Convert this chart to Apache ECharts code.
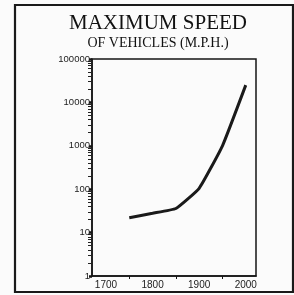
<!DOCTYPE html>
<html>
<head>
<meta charset="utf-8">
<script src="https://cdn.jsdelivr.net/npm/echarts@6/dist/echarts.min.js"></script>
<style>
html,body{margin:0;padding:0;background:#fbfbfb;}
#c{width:294px;height:295px;}
</style>
</head>
<body>
<div id="c"></div>
<script>
// Data
var years = [1750, 1800, 1850, 1900, 1950, 2000];
var speeds = [22, 28, 36, 105, 1000, 25000];
var xLabelValues = [1700, 1800, 1900, 2000];
var xTickValues = [1750, 1850, 1950];
var yTickLabels = ['1', '10', '100', '1000', '10000', '100000'];
var titleText = 'MAXIMUM SPEED';
var subtitleText = 'OF VEHICLES (M.P.H.)';

var chart = echarts.init(document.getElementById('c'), null, {renderer: 'canvas'});
var option = {
  backgroundColor: '#fbfbfb',
  animation: false,
  grid: {
    left: 92, top: 59, right: 38, bottom: 19,
    show: true, borderColor: '#151515', borderWidth: 1.5, backgroundColor: 'transparent'
  },
  graphic: [
    {type: 'rect', shape: {x: 15, y: 5, width: 278, height: 287},
     style: {fill: 'none', stroke: '#1a1a1a', lineWidth: 2.2}, silent: true},
    {type: 'text', x: 158, y: 23.3,
     style: {text: titleText, font: '21px "Liberation Serif"', fill: '#111', textAlign: 'center', textVerticalAlign: 'middle'}},
    {type: 'text', x: 158, y: 43.2,
     style: {text: subtitleText, font: '14px "Liberation Serif"', fill: '#111', textAlign: 'center', textVerticalAlign: 'middle'}}
  ],
  xAxis: {
    type: 'value', min: 1670, max: 2022,
    axisLine: {show: true, lineStyle: {color: '#151515', width: 1.5}},
    axisTick: {show: true, customValues: xTickValues, length: 3, lineStyle: {color: '#151515', width: 1}},
    axisLabel: {customValues: xLabelValues, fontFamily: 'Liberation Sans', fontSize: 10, color: '#222', margin: 4,
      formatter: function (v) { return String(v); }},
    splitLine: {show: false}
  },
  yAxis: {
    type: 'log', logBase: 10, min: 1, max: 100000,
    axisLine: {show: true, lineStyle: {color: '#151515', width: 1.5}},
    axisTick: {show: true, length: 3, lineStyle: {color: '#151515', width: 2.5}},
    minorTick: {show: true, splitNumber: 9, length: 4, lineStyle: {color: '#222', width: 1}},
    axisLabel: {
      fontFamily: 'Liberation Sans', fontSize: 9.5, color: '#222', margin: 2,
      formatter: function (v) {
        var i = Math.round(Math.log10(v));
        return yTickLabels[i] !== undefined ? yTickLabels[i] : '';
      }
    },
    splitLine: {show: false}
  },
  series: [{
    type: 'line',
    data: years.map(function (y, i) { return [y, speeds[i]]; }),
    showSymbol: false,
    lineStyle: {color: '#1a1a1a', width: 3},
    smooth: 0.12
  }]
};
chart.setOption(option);
</script>
</body>
</html>
